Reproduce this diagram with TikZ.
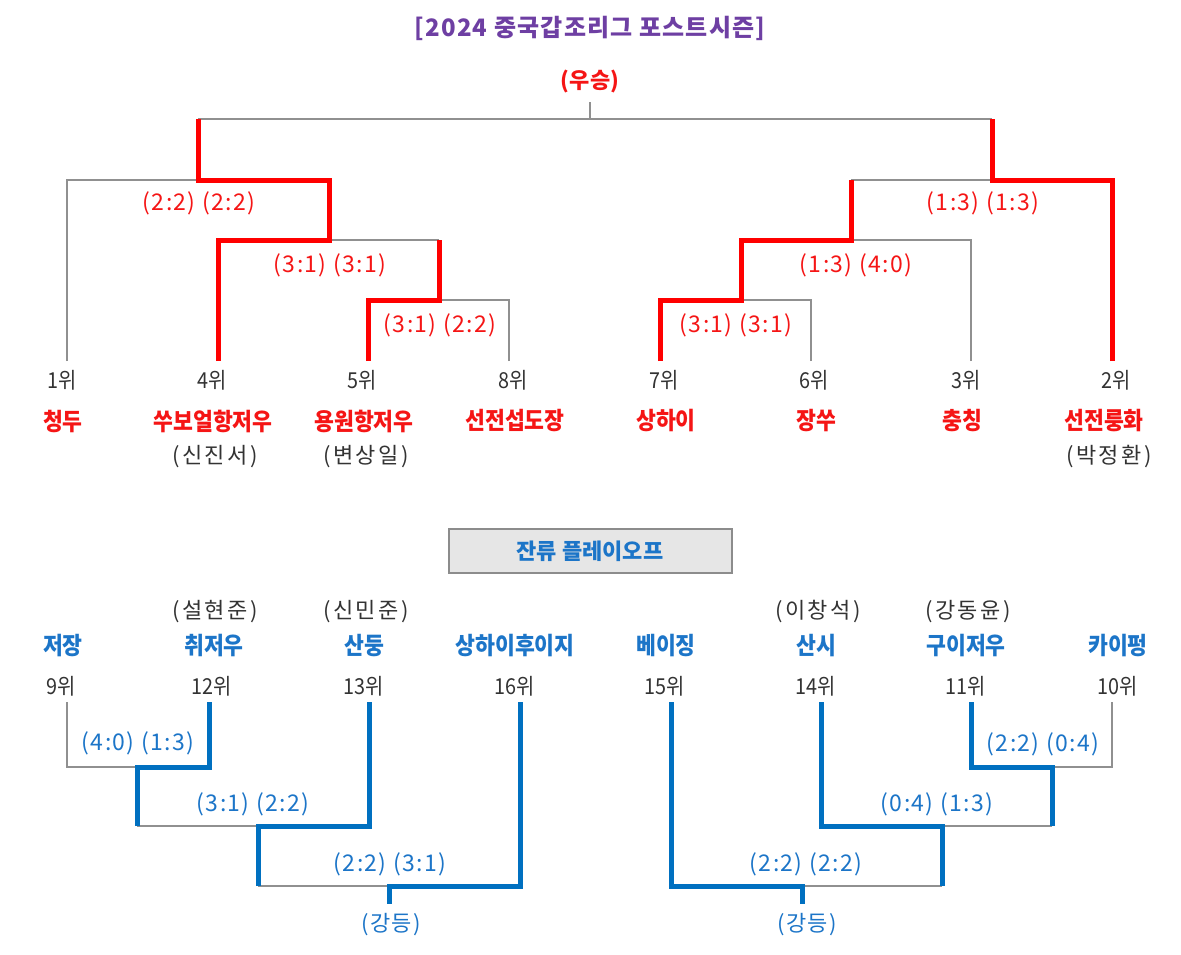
\documentclass[tikz,border=0pt]{standalone}
\usepackage{fontspec}
\setmainfont{Noto Sans CJK KR}
\newfontfamily\krTeam[FakeStretch=0.9]{Noto Sans CJK KR}
\newfontfamily\krScore[LetterSpace=6]{Noto Sans CJK KR}
\newfontfamily\krPlayer[LetterSpace=11]{Noto Sans CJK KR}
\newfontfamily\krTitle[LetterSpace=5]{Noto Sans CJK KR}
\newfontfamily\krResult[LetterSpace=6]{Noto Sans CJK KR}
\newfontfamily\krPlain{Noto Sans CJK KR}
\definecolor{lgrey}{HTML}{909090}
\definecolor{lred}{HTML}{FF0000}
\definecolor{tred}{HTML}{F51515}
\definecolor{lblue}{HTML}{0070C0}
\definecolor{tblue}{HTML}{1C75C8}
\definecolor{purp}{HTML}{6E3FA3}
\definecolor{dgrey}{HTML}{333333}
\definecolor{boxfill}{HTML}{E6E6E6}
\definecolor{boxline}{HTML}{8C8C8C}
\tikzset{
  greyline/.style={draw=lgrey, line width=1.6pt},
  redline/.style={draw=lred, line width=5pt, line join=miter},
  blueline/.style={draw=lblue, line width=5pt, line join=miter},
  titletxt/.style={text=purp, font=\krTitle\bfseries\fontsize{24}{28}\selectfont, inner sep=0pt},
  ranktxt/.style={text=dgrey, font=\krTeam\fontsize{22}{26}\selectfont, inner sep=0pt},
  teamred/.style={text=tred, font=\krTeam\bfseries\fontsize{24}{28}\selectfont, inner sep=0pt},
  teamblue/.style={text=tblue, font=\krTeam\bfseries\fontsize{24}{28}\selectfont, inner sep=0pt},
  champtxt/.style={text=tred, font=\krPlain\bfseries\fontsize{22}{26}\selectfont, inner sep=0pt},
  playertxt/.style={text=dgrey, font=\krPlayer\fontsize{22}{26}\selectfont, inner sep=0pt},
  scorered/.style={text=tred, font=\krScore\fontsize{23}{26}\selectfont, inner sep=0pt},
  scoreblue/.style={text=tblue, font=\krScore\fontsize{23}{26}\selectfont, inner sep=0pt},
  resultblue/.style={text=tblue, font=\krResult\fontsize{22}{26}\selectfont, inner sep=0pt},
  sectionbox/.style={draw=boxline, fill=boxfill, line width=2pt, minimum width=283pt, minimum height=44pt, text=tblue, font=\krPlain\bfseries\fontsize{22}{26}\selectfont}
}
\begin{document}
\begin{tikzpicture}[x=1pt,y=-1pt]
\fill[white] (0,0) rectangle (1181,954);
\useasboundingbox (0,0) rectangle (1181,954);

% ---------- titles ----------
\node[titletxt] (title) at (590,28) {[2024 중국갑조리그 포스트시즌]};
\node[champtxt] (champ) at (590,81) {(우승)};

% ---------- top bracket coordinates ----------
\coordinate (win) at (590,102);
\coordinate (topL) at (198,119);
\coordinate (topR) at (992,119);
\coordinate (topM) at (590,119);
\coordinate (L1) at (67,361);
\coordinate (L4) at (218,361);
\coordinate (L5) at (368,361);
\coordinate (L8) at (509,361);
\coordinate (JL2) at (198,180);
\coordinate (JL3) at (329,240);
\coordinate (JL4) at (439,300);
\coordinate (R7) at (660,361);
\coordinate (R6) at (811,361);
\coordinate (R3) at (971,361);
\coordinate (R2) at (1112,361);
\coordinate (JR2) at (992,180);
\coordinate (JR3) at (851,240);
\coordinate (JR4) at (741,300);

% grey lines
\draw[greyline] (topL) -- (topR);
\draw[greyline] (win) -- (topM);
\draw[greyline] (L1) |- (JL2);
\draw[greyline] (JL3) -- (JL4 |- JL3);
\draw[greyline] (L8) |- (JL4);
\draw[greyline] (JR3 |- JR2) -- (JR2);
\draw[greyline] (R3) |- (JR3);
\draw[greyline] (R6) |- (JR4);

% red lines
\draw[redline] (L5) |- (JL4) -- (JL4 |- JL3);
\draw[redline] (L4) |- (JL3) -- (JL3 |- JL2) -- (JL2) -- (topL);
\draw[redline] (R7) |- (JR4) -- (JR4 |- JR3) -- (JR3) -- (JR3 |- JR2);
\draw[redline] (R2) |- (JR2) -- (topR);

% scores
\node[scorered] (s1) at (199,203) {(2:2) (2:2)};
\node[scorered] (s2) at (330,265) {(3:1) (3:1)};
\node[scorered] (s3) at (440,325) {(3:1) (2:2)};
\node[scorered] (s4) at (983,203) {(1:3) (1:3)};
\node[scorered] (s5) at (856,265) {(1:3) (4:0)};
\node[scorered] (s6) at (736,325) {(3:1) (3:1)};

% ranks
\node[ranktxt] (r1) at (62,380) {1위};
\node[ranktxt] (r4) at (212,380) {4위};
\node[ranktxt] (r5) at (362,380) {5위};
\node[ranktxt] (r8) at (513,380) {8위};
\node[ranktxt] (r7) at (664,380) {7위};
\node[ranktxt] (r6) at (814,380) {6위};
\node[ranktxt] (r3) at (966,380) {3위};
\node[ranktxt] (r2) at (1116,380) {2위};

% teams
\node[teamred] (t1) at (63,421) {청두};
\node[teamred] (t4) at (213,421) {쑤보얼항저우};
\node[teamred] (t5) at (364,421) {용원항저우};
\node[teamred] (t8) at (515,421) {선전섭도장};
\node[teamred] (t7) at (666,421) {상하이};
\node[teamred] (t6) at (816,421) {장쑤};
\node[teamred] (t3) at (962,421) {충칭};
\node[teamred] (t2) at (1104,421) {선전룽화};

\node[playertxt] (p4) at (215,457) {(신진서)};
\node[playertxt] (p5) at (366,457) {(변상일)};
\node[playertxt] (p2) at (1109,457) {(박정환)};

% ---------- relegation playoff ----------
\node[sectionbox] (box) at (590,551) {잔류 플레이오프};

\node[playertxt] (q12) at (215,612) {(설현준)};
\node[playertxt] (q13) at (366,612) {(신민준)};
\node[playertxt] (q14) at (818,612) {(이창석)};
\node[playertxt] (q11) at (968,612) {(강동윤)};

\node[teamblue] (u9) at (63,646) {저장};
\node[teamblue] (u12) at (214,646) {취저우};
\node[teamblue] (u13) at (364,646) {산둥};
\node[teamblue] (u16) at (515,646) {상하이후이지};
\node[teamblue] (u15) at (666,646) {베이징};
\node[teamblue] (u14) at (816,646) {산시};
\node[teamblue] (u11) at (966,646) {구이저우};
\node[teamblue] (u10) at (1118,646) {카이펑};

\node[ranktxt] (v9) at (61,686) {9위};
\node[ranktxt] (v12) at (212,686) {12위};
\node[ranktxt] (v13) at (364,686) {13위};
\node[ranktxt] (v16) at (515,686) {16위};
\node[ranktxt] (v15) at (665,686) {15위};
\node[ranktxt] (v14) at (816,686) {14위};
\node[ranktxt] (v11) at (966,686) {11위};
\node[ranktxt] (v10) at (1118,686) {10위};

\coordinate (B9) at (67,702);
\coordinate (B12) at (209,702);
\coordinate (B13) at (369,702);
\coordinate (B16) at (520,702);
\coordinate (B15) at (671,702);
\coordinate (B14) at (821,702);
\coordinate (B11) at (971,702);
\coordinate (B10) at (1112,702);
\coordinate (K1) at (137,767);
\coordinate (K2) at (258,826);
\coordinate (K3) at (389,886);
\coordinate (KE) at (389,904);
\coordinate (M1) at (1052,767);
\coordinate (M2) at (942,826);
\coordinate (M3) at (802,886);
\coordinate (ME) at (802,904);

\draw[greyline] (B9) |- (K1);
\draw[greyline] (K1 |- K2) -- (K2);
\draw[greyline] (K2 |- K3) -- (K3);
\draw[greyline] (B10) |- (M1);
\draw[greyline] (M1 |- M2) -- (M2);
\draw[greyline] (M2 |- M3) -- (M3);

\draw[blueline] (B12) |- (K1) -- (K1 |- K2);
\draw[blueline] (B13) |- (K2) -- (K2 |- K3);
\draw[blueline] (B16) |- (K3) -- (KE);
\draw[blueline] (B11) |- (M1) -- (M1 |- M2);
\draw[blueline] (B14) |- (M2) -- (M2 |- M3);
\draw[blueline] (B15) |- (M3) -- (ME);

\node[scoreblue] (w1) at (138,743) {(4:0) (1:3)};
\node[scoreblue] (w2) at (253,804) {(3:1) (2:2)};
\node[scoreblue] (w3) at (390,864) {(2:2) (3:1)};
\node[scoreblue] (w4) at (1043,744) {(2:2) (0:4)};
\node[scoreblue] (w5) at (937,804) {(0:4) (1:3)};
\node[scoreblue] (w6) at (806,864) {(2:2) (2:2)};

\node[resultblue] (d1) at (391,925) {(강등)};
\node[resultblue] (d2) at (807,925) {(강등)};
\end{tikzpicture}
\end{document}
